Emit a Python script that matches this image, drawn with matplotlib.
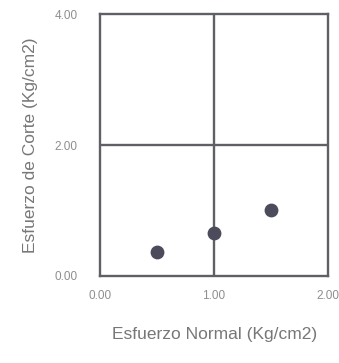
import matplotlib.pyplot as plt

plt.rcParams['font.family'] = ['Liberation Sans', 'DejaVu Sans']

# datos de corte directo
esfuerzo_normal = [0.50, 1.00, 1.50]
esfuerzo_corte = [0.37, 0.66, 1.01]
x_ticks = [0.0, 1.0, 2.0]
y_ticks = [0.0, 2.0, 4.0]

line_col = '#5f5f66'
text_col = '#777777'
tick_col = '#8e8e8e'

fig = plt.figure(figsize=(3.39, 3.63), dpi=100)
ax = fig.add_axes([0.295, 0.240, 0.673, 0.721])

ax.set_xlim(0, 2)
ax.set_ylim(0, 4)
ax.axvline(1.0, color=line_col, lw=1.7, zorder=1)
ax.axhline(2.0, color=line_col, lw=1.7, zorder=1)
ax.scatter(esfuerzo_normal, esfuerzo_corte, s=80, color='#4b4b5c', zorder=3)

for s in ax.spines.values():
    s.set_color(line_col)
    s.set_linewidth(1.7)

ax.set_xticks(x_ticks)
ax.set_yticks(y_ticks)
ax.set_xticklabels([f"{v:.2f}" for v in x_ticks])
ax.set_yticklabels([f"{v:.2f}" for v in y_ticks])
ax.tick_params(length=0, labelsize=8.5, labelcolor=tick_col)
ax.tick_params(axis='y', pad=16)
ax.tick_params(axis='x', pad=10)

ax.set_xlabel("Esfuerzo Normal (Kg/cm2)", fontsize=12.5, color=text_col, labelpad=18)
ax.set_ylabel("Esfuerzo de Corte (Kg/cm2)", fontsize=12.5, color=text_col, labelpad=12)

fig.savefig("out.png", dpi=100)
